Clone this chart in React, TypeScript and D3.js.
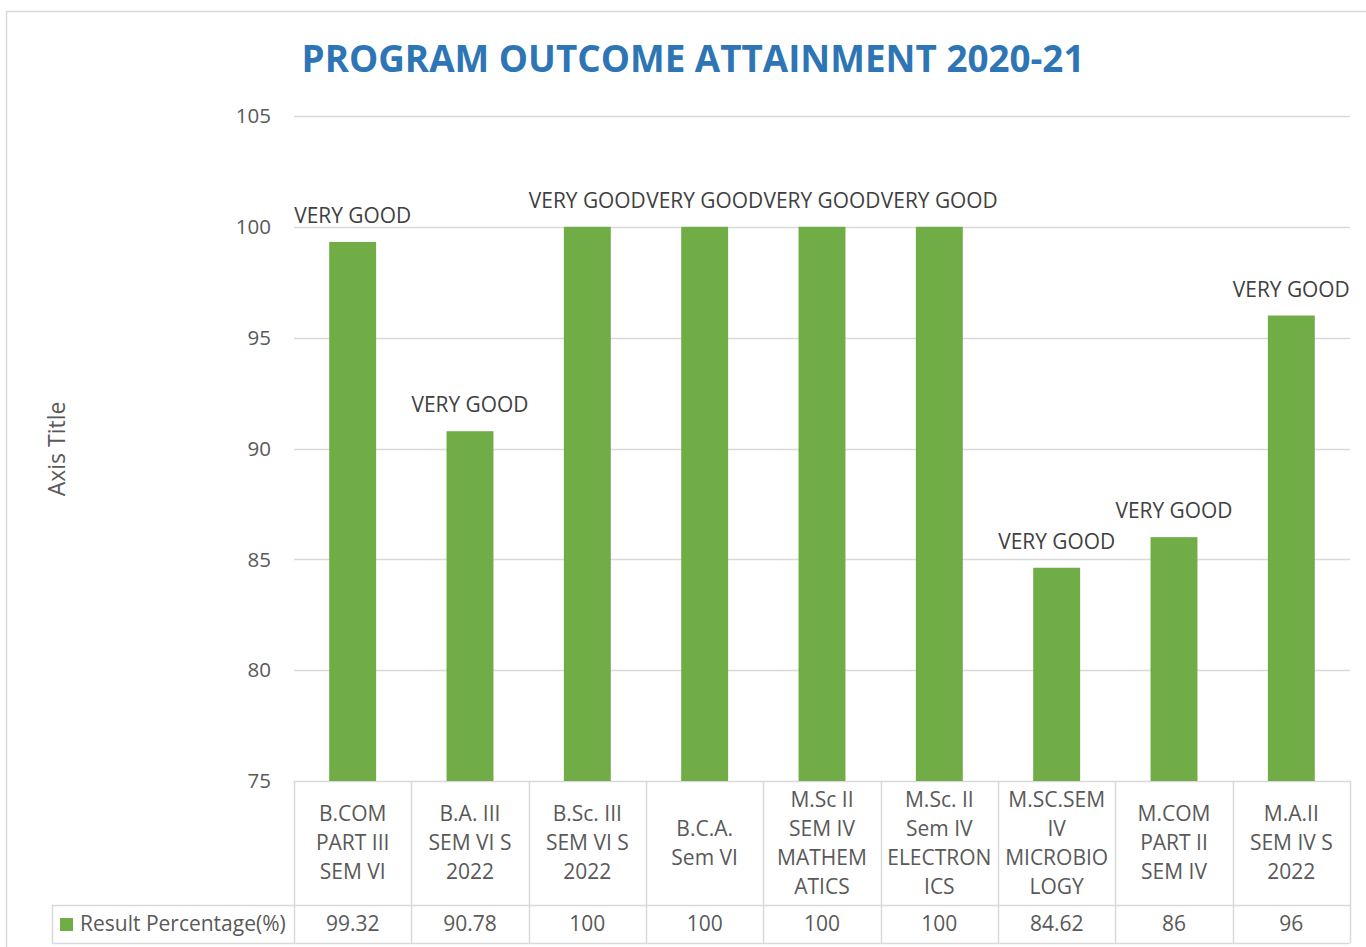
import React from "react";
import * as d3 from "d3";

const categories: string[][] = [
  ["B.COM", "PART III", "SEM VI"],
  ["B.A. III", "SEM VI S", "2022"],
  ["B.Sc. III", "SEM VI S", "2022"],
  ["B.C.A.", "Sem VI"],
  ["M.Sc II", "SEM IV", "MATHEM", "ATICS"],
  ["M.Sc. II", "Sem IV", "ELECTRON", "ICS"],
  ["M.SC.SEM", "IV", "MICROBIO", "LOGY"],
  ["M.COM", "PART II", "SEM IV"],
  ["M.A.II", "SEM IV S", "2022"],
];
const values: number[] = [99.32, 90.78, 100, 100, 100, 100, 84.62, 86, 96];
const valueLabels: string[] = ["99.32", "90.78", "100", "100", "100", "100", "84.62", "86", "96"];
const dataLabels: string[] = Array(9).fill("VERY GOOD");
const yTicks: number[] = [75, 80, 85, 90, 95, 100, 105];
const seriesName = "Result Percentage(%)";
const title = "PROGRAM OUTCOME ATTAINMENT 2020-21";
const axisTitle = "Axis Title";

const FONT = "'Open Sans', 'Liberation Sans', sans-serif";
const GRID = "#d9d9d9";
const TXT = "#595959";
const GREEN = "#70ad47";

export default function App() {
  const left = 294, right = 1350, top = 116, bottom = 781;
  const rowBottom = 905, tableBottom = 943, legendLeft = 52;
  const ids = categories.map((_, i) => String(i));
  const x = d3.scaleBand<string>().domain(ids).range([left, right]).paddingInner(0.6).paddingOuter(0.3);
  const step = x.step();
  const y = d3.scaleLinear().domain([75, 105]).range([bottom, top]);
  const colCenter = (i: number) => (x(String(i)) as number) + x.bandwidth() / 2;
  const lineH = 29;
  const catMid = (bottom + rowBottom) / 2;
  const fs = 21;

  return (
    <div style={{ position: "absolute", left: 0, top: 0 }}>
      <svg width={1366} height={947} style={{ display: "block", background: "#fff" }} fontFamily={FONT}>
        <rect x={6.5} y={11.5} width={1400} height={1000} fill="#fff" stroke={GRID} strokeWidth={1.5} />
        <text x={693} y={72} textAnchor="middle" fontSize={36.8} fontWeight="bold" fill="#2e75b6">{title}</text>
        {yTicks.map((t) => (
          <g key={t}>
            <line x1={left} x2={right} y1={Math.round(y(t)) + 0.5} y2={Math.round(y(t)) + 0.5} stroke={GRID} strokeWidth={1.5} />
            <text x={271} y={y(t)} dy="0.35em" textAnchor="end" fontSize={20.5} fill={TXT}>{t}</text>
          </g>
        ))}
        <text transform={`translate(${65},${449}) rotate(-90)`} textAnchor="middle" fontSize={23} fill={TXT}>{axisTitle}</text>
        {values.map((v, i) => (
          <rect key={i} x={x(String(i))} y={y(v)} width={x.bandwidth()} height={bottom - y(v)} fill={GREEN} />
        ))}
        {values.map((v, i) => (
          <text key={i} x={colCenter(i)} y={y(v) - 19} textAnchor="middle" fontSize={20.9} fill="#404040">{dataLabels[i]}</text>
        ))}
        {d3.range(categories.length + 1).map((k) => {
          const xx = Math.round(left + k * step) + 0.5;
          return <line key={k} x1={xx} x2={xx} y1={bottom} y2={tableBottom} stroke={GRID} strokeWidth={1.5} />;
        })}
        <line x1={legendLeft} x2={right} y1={rowBottom + 0.5} y2={rowBottom + 0.5} stroke={GRID} strokeWidth={1.5} />
        <line x1={legendLeft} x2={right} y1={tableBottom + 0.5} y2={tableBottom + 0.5} stroke={GRID} strokeWidth={1.5} />
        <line x1={legendLeft + 0.5} x2={legendLeft + 0.5} y1={rowBottom} y2={tableBottom} stroke={GRID} strokeWidth={1.5} />
        {categories.map((lines, i) => (
          <text key={i} textAnchor="middle" fontSize={fs} fill={TXT}>
            {lines.map((ln, j) => (
              <tspan key={j} x={left + (i + 0.5) * step} y={catMid + (j - (lines.length - 1) / 2) * lineH} dy="0.35em">{ln}</tspan>
            ))}
          </text>
        ))}
        {valueLabels.map((s, i) => (
          <text key={i} x={left + (i + 0.5) * step} y={(rowBottom + tableBottom) / 2} dy="0.35em" textAnchor="middle" fontSize={fs} fill={TXT}>{s}</text>
        ))}
        <rect x={60} y={918} width={13} height={13} fill={GREEN} />
        <text x={80} y={(rowBottom + tableBottom) / 2} dy="0.35em" fontSize={fs} fill={TXT}>{seriesName}</text>
      </svg>
    </div>
  );
}
